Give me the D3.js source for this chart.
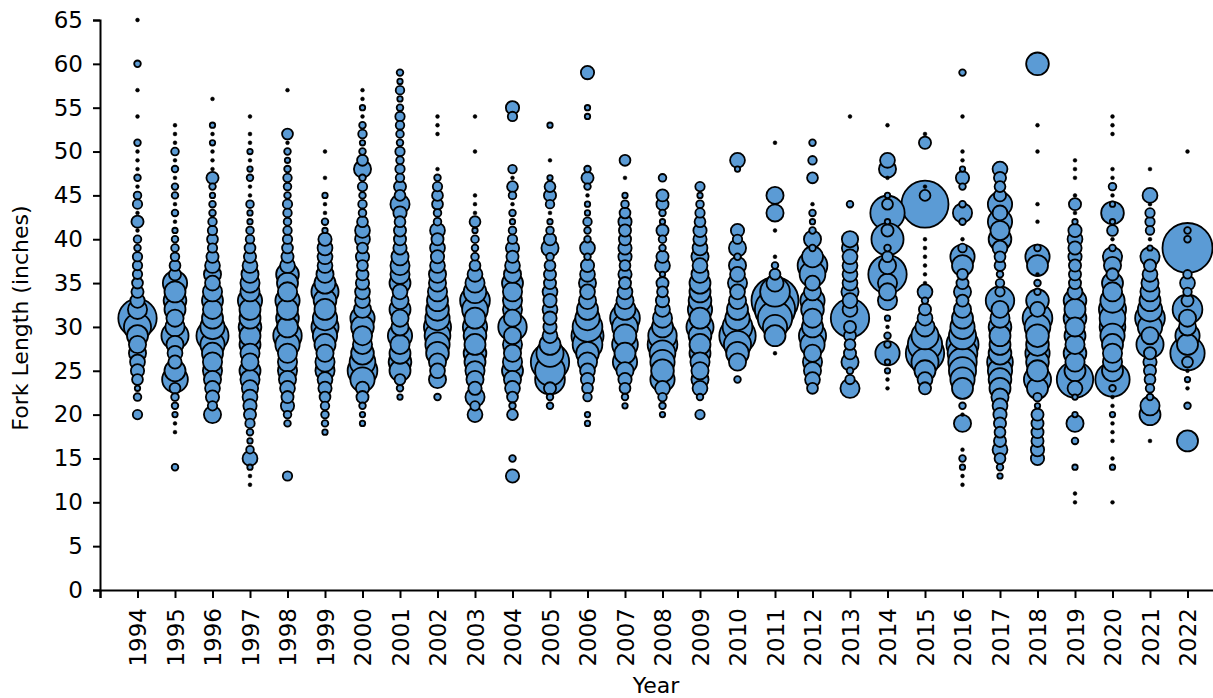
<!DOCTYPE html>
<html>
<head>
    <script src="https://cdnjs.cloudflare.com/ajax/libs/d3/7.8.5/d3.min.js"></script>
    <style>
        body, html { margin: 0; padding: 0; background: #fff; overflow: hidden; }
        svg { display: block; }
        text { font-family: "DejaVu Sans", Verdana, sans-serif; fill: #000; }
    </style>
</head>
<body>
    <svg></svg>
    <script>
        // years on the x axis
        const years = d3.range(1994, 2023);
        // smallest fork length (inches) with fish each year
        const minLength = [20, 14, 20, 12, 13, 18, 19, 22, 22, 20, 13, 21, 19, 21, 20, 20, 24, 27, 23, 23, 23, 23, 12, 13, 15, 10, 10, 17, 17];
        // number of fish per inch, starting at minLength for that year
        const counts = [
            [6,0,4,2,8,12,15,20,20,30,50,100,25,14,10,8,6,6,6,3,4,1,10,1,6,4,1,3,1,1,1,3,0,0,1,0,0,1,0,0,3,0,0,0,0,1],
            [3,0,0,0,1,1,2,3,4,8,45,30,12,15,20,50,25,20,30,35,30,40,10,8,5,4,3,2,1,3,1,3,3,1,3,1,4,1,1,1],
            [20,6,12,15,20,25,25,30,40,70,40,30,25,30,25,15,20,15,10,6,8,6,5,3,3,2,3,10,1,1,1,2,1,2,0,0,1],
            [1,1,2,15,4,2,3,6,10,12,15,18,25,30,20,25,30,30,35,30,30,40,25,25,20,15,10,8,5,4,2,2,4,1,1,3,2,1,2,1,1,0,1],
            [6,0,0,0,0,0,3,4,12,10,15,20,25,25,25,40,55,30,35,30,40,25,30,35,15,10,8,6,5,4,5,6,3,4,5,3,2,3,1,8,0,0,0,0,1],
            [2,3,4,5,8,12,15,25,25,20,30,40,50,40,30,35,50,30,20,15,15,15,12,2,3,1,1,2,0,1,0,0,1],
            [2,2,3,10,12,40,60,45,35,25,25,35,40,20,15,15,12,10,8,12,8,15,15,8,4,5,3,6,3,20,8,3,2,5,3,1,2,1,1],
            [2,3,8,30,35,30,25,40,20,20,30,20,15,30,25,25,20,12,10,10,8,12,25,8,10,5,6,4,6,3,4,5,6,3,2,5,2,3],
            [3,0,20,15,20,35,40,45,50,40,35,30,25,20,20,15,12,15,10,15,4,4,8,8,6,3,1,0,0,0,1,1,1],
            [15,6,25,12,20,25,30,35,30,35,40,30,45,60,35,25,15,8,4,3,4,2,8,1,1,1,0,0,0,0,1,0,0,0,1],
            [12,0,3,0,0,0,0,8,3,8,15,20,30,25,20,25,20,55,20,25,25,25,30,20,15,10,12,6,4,2,3,1,4,8,1,5,0,0,0,0,0,6,12],
            [3,3,10,60,60,100,50,30,15,12,12,15,12,15,10,10,8,4,20,10,4,2,1,5,10,8,2,0,1,0,0,0,2],
            [2,2,0,5,8,12,15,25,35,60,70,60,40,30,20,15,20,15,12,3,15,3,3,5,2,2,1,3,10,3,0,0,0,0,0,2,2,0,0,0,12],
            [2,3,8,12,20,40,30,45,35,45,60,30,20,15,10,12,8,12,12,10,10,12,8,4,2,0,1,0,8],
            [2,3,5,15,40,35,40,45,60,55,30,25,15,12,8,10,2,15,10,3,4,10,2,3,10,10,0,4],
            [6,0,3,15,20,20,25,30,30,35,50,30,40,35,30,30,20,15,20,15,12,12,8,6,4,2,6],
            [3,0,20,35,50,90,60,40,30,20,15,25,15,20,3,20,6,12,0,0,0,0,0,0,2,15],
            [1,0,30,40,80,110,150,60,20,8,3,1,0,0,1,0,20,0,20,0,0,0,0,0,1],
            [8,15,20,25,20,40,50,30,25,35,40,20,15,45,60,30,3,20,3,2,3,1,0,0,8,0,5,0,3],
            [25,6,3,20,10,8,10,10,100,15,15,20,15,15,15,15,18,18,0,0,0,3,0,0,0,0,0,0,0,0,0,1],
            [1,1,2,2,40,3,3,1,2,0,25,20,25,100,20,8,3,70,10,2,80,8,2,0,1,20,15,0,0,0,1],
            [10,15,30,50,100,80,50,25,15,10,3,15,1,1,1,1,1,1,0,0,0,150,8,1,0,0,0,0,10,1],
            [1,1,2,3,1,0,0,20,1,3,0,30,40,50,55,60,70,50,40,30,20,10,20,10,8,30,40,5,1,0,3,25,3,0,3,12,2,1,1,0,0,0,1,0,0,0,0,3],
            [2,3,8,15,10,8,10,12,15,20,30,35,40,45,35,30,30,35,25,20,55,6,5,3,8,8,15,35,25,40,15,40,10,8,10,15],
            [12,12,10,10,10,10,2,5,30,50,30,35,40,35,35,45,60,15,35,3,3,1,30,40,3,0,0,1,0,1,0,0,0,0,0,1,0,0,1,0,0,0,0,0,0,35],
            [1,1,0,0,2,0,0,3,0,20,2,0,2,15,90,30,25,35,25,30,25,35,30,35,15,10,10,10,12,12,15,12,2,1,10,1,0,1,1,1],
            [1,0,0,0,2,1,0,1,1,1,2,1,1,3,80,30,25,25,30,40,45,45,50,40,25,30,10,20,25,3,1,8,2,35,2,1,4,1,1,0,0,0,1,1,1],
            [1,0,0,30,25,3,5,8,10,12,10,50,20,40,60,40,30,25,20,15,10,25,2,1,5,6,6,1,15,0,0,1],
            [30,0,0,0,3,0,1,2,1,8,80,30,40,20,20,60,10,5,15,5,0,0,170,3,3,0,0,0,0,0,0,0,0,1]
        ];
        const yTicks = d3.range(0, 66, 5);

        const width = 1213, height = 698;
        const svg = d3.select("svg").attr("width", width).attr("height", height);

        const x = d3.scaleLinear().domain([1993, 2023]).range([100, 1225]);
        const y = d3.scaleLinear().domain([0, 65]).range([590, 20]);
        const r = d3.scaleSqrt().domain([0, 150]).range([0, 23.5]);

        const points = [];
        years.forEach((yr, i) => {
            counts[i].forEach((c, j) => {
                if (c > 0) points.push({ year: yr, len: minLength[i] + j, n: c });
            });
        });
        points.sort((a, b) => b.n - a.n);

        svg.append("g")
            .selectAll("circle")
            .data(points)
            .join("circle")
            .attr("cx", d => x(d.year))
            .attr("cy", d => y(d.len))
            .attr("r", d => Math.max(1.7, r(d.n)))
            .attr("fill", d => d.n < 2 ? "#000" : "#5b9bd5")
            .attr("stroke", "#000")
            .attr("stroke-width", d => d.n < 2 ? 0.5 : 1.8);

        // y axis
        const yAxis = svg.append("g")
            .attr("transform", "translate(100,0)")
            .call(d3.axisLeft(y).tickValues(yTicks).tickSize(7).tickPadding(10));
        yAxis.selectAll("text").style("font-size", "23px");

        // x axis
        const xAxis = svg.append("g")
            .attr("transform", "translate(0,590)")
            .call(d3.axisBottom(x).tickValues(d3.range(1993, 2023)).tickSize(8)
                .tickFormat(d => d === 1993 ? "" : d));
        xAxis.selectAll("text")
            .style("font-size", "23px")
            .attr("transform", "rotate(-90)")
            .attr("text-anchor", "end")
            .attr("x", -18)
            .attr("y", 0)
            .attr("dy", "0.35em");

        svg.selectAll(".domain, .tick line").attr("stroke", "#000").attr("stroke-width", 2);

        svg.append("text")
            .attr("transform", "translate(28,318) rotate(-90)")
            .attr("text-anchor", "middle")
            .style("font-size", "22px")
            .text("Fork Length (inches)");

        svg.append("text")
            .attr("x", 656)
            .attr("y", 693)
            .attr("text-anchor", "middle")
            .style("font-size", "22px")
            .text("Year");
    </script>
</body>
</html>
